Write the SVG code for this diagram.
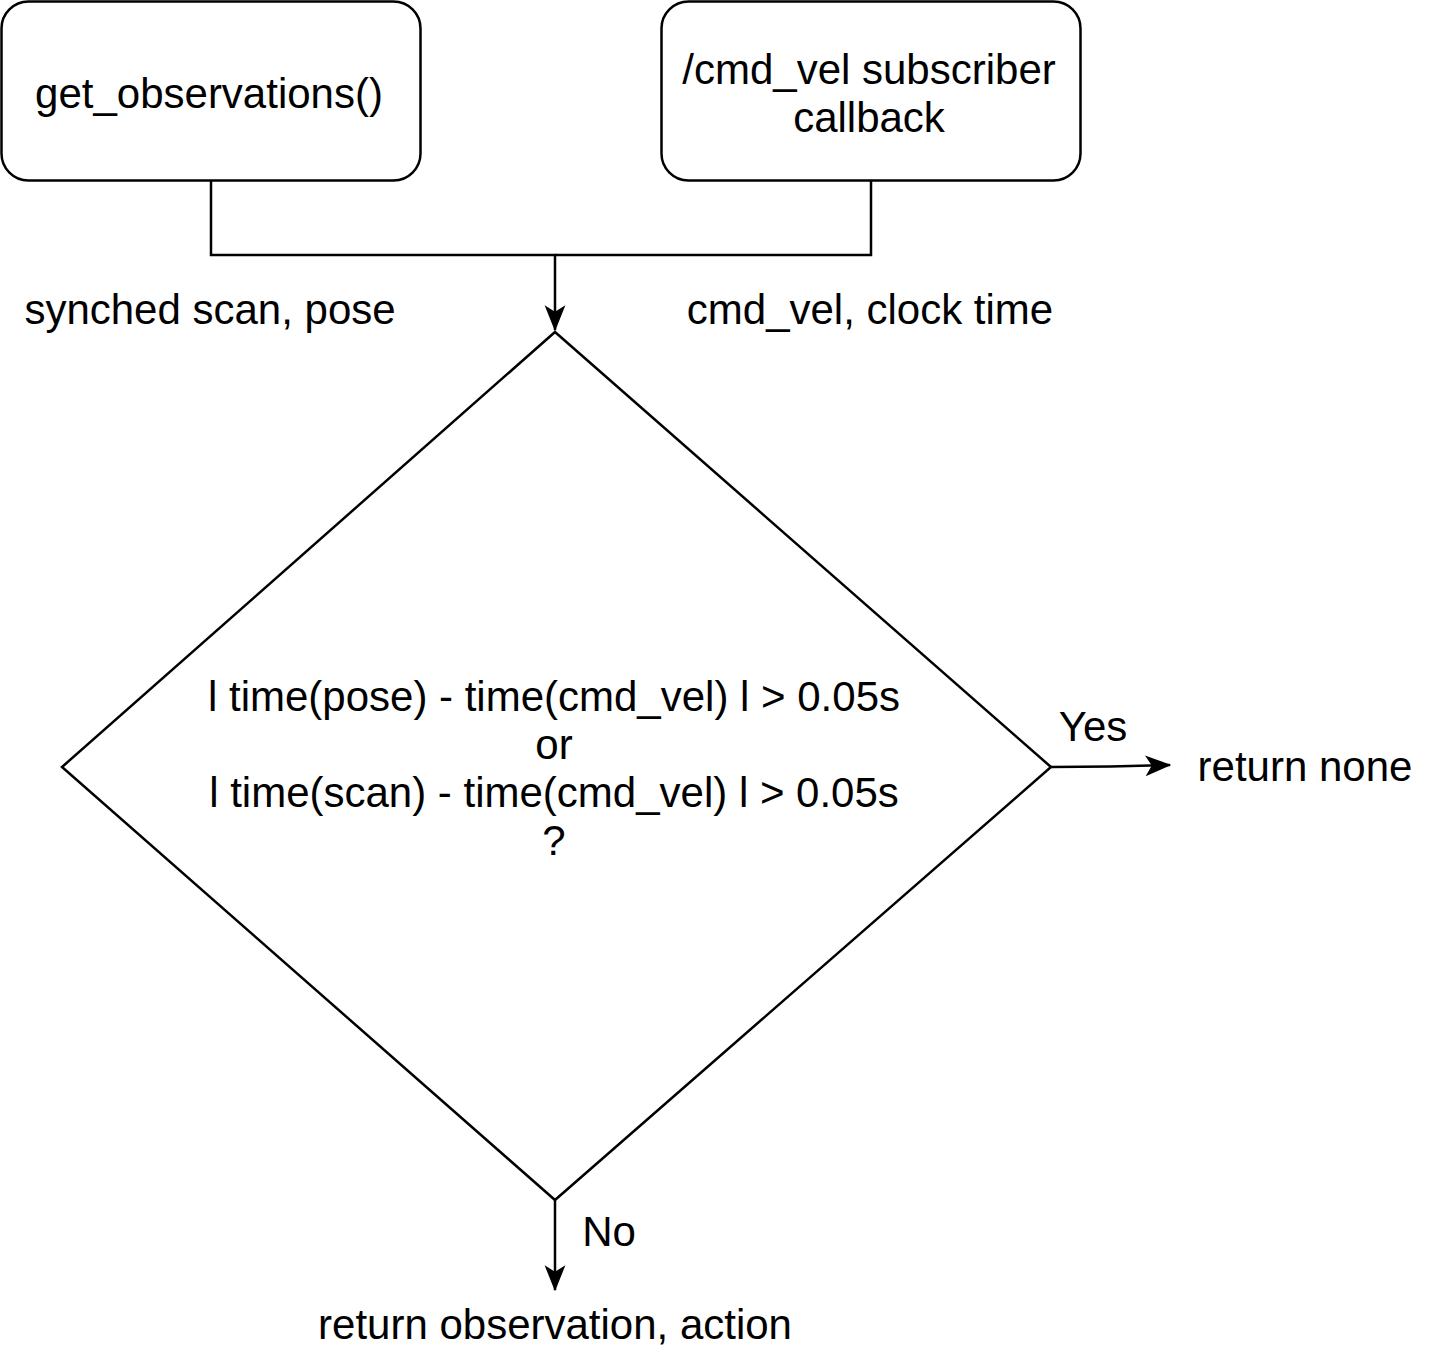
<svg xmlns="http://www.w3.org/2000/svg" width="1443" height="1356" viewBox="0 0 1443 1356">
<style>
.s{fill:#fff;stroke:#000;stroke-width:2.5}
.c{fill:none;stroke:#000;stroke-width:2.5}
text{font-family:"Liberation Sans",Arial,sans-serif;font-size:42px;fill:#000}
.m{text-anchor:middle}
</style>
<defs>
<marker id="a" viewBox="0 0 20 20" refX="19" refY="10" markerWidth="26" markerHeight="26" markerUnits="userSpaceOnUse" orient="auto">
<path d="M0,2 L20,10 L0,18 L5,10 Z" fill="#000"/>
</marker>
</defs>
<g id="connectors">
<path class="c" d="M211,181 V255 H555 V330" marker-end="url(#a)"/>
<path class="c" d="M871,181 V255 H555"/>
<path class="c" d="M1051,767 Q1110,767 1170,765" marker-end="url(#a)"/>
<path class="c" d="M555,1200 V1290" marker-end="url(#a)"/>
</g>
<g id="node-get-observations">
<rect class="s" x="1.5" y="1.5" width="419" height="179" rx="27"/>
<text class="m" x="209" y="108">get_observations()</text>
</g>
<g id="node-cmd-vel">
<rect class="s" x="661.5" y="1.5" width="419" height="179" rx="27"/>
<text class="m" x="869" y="84">/cmd_vel subscriber</text>
<text class="m" x="869" y="132">callback</text>
</g>
<g id="node-decision">
<path class="s" d="M555,332 L1051,767 L555,1200 L62,767 Z"/>
<text class="m" x="554" y="711">l time(pose) - time(cmd_vel) l &gt; 0.05s</text>
<text class="m" x="554" y="759">or</text>
<text class="m" x="554" y="807">l time(scan) - time(cmd_vel) l &gt; 0.05s</text>
<text class="m" x="554" y="855">?</text>
</g>
<g id="labels">
<text class="m" x="210" y="324">synched scan, pose</text>
<text class="m" x="870" y="324">cmd_vel, clock time</text>
<text class="m" x="1093" y="741">Yes</text>
<text class="m" x="1305" y="781">return none</text>
<text class="m" x="609" y="1246">No</text>
<text class="m" x="555" y="1339">return observation, action</text>
</g>
</svg>
